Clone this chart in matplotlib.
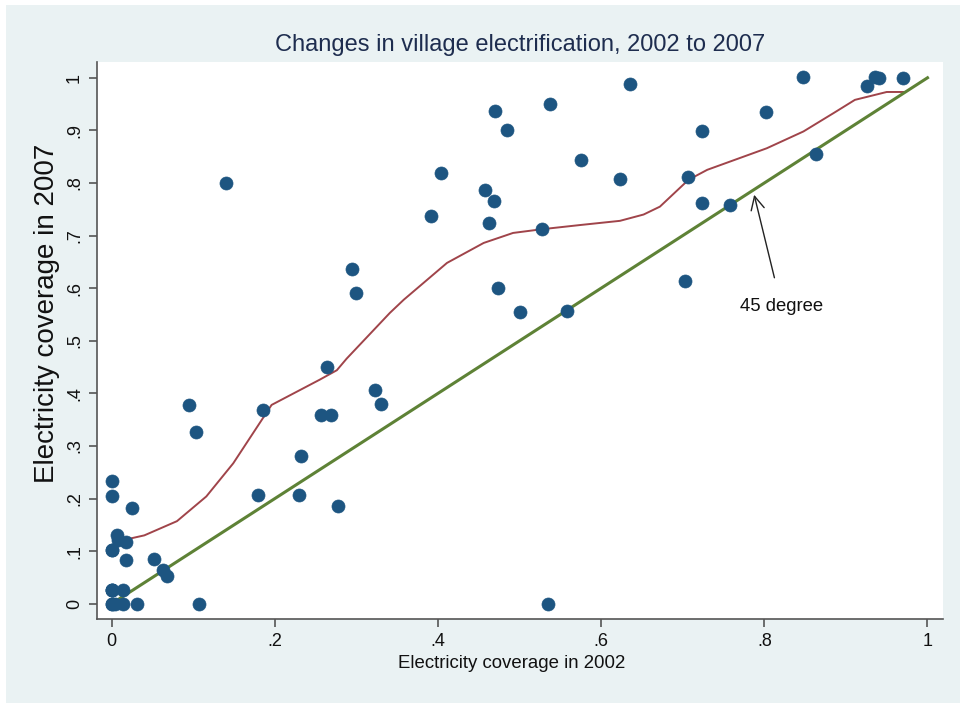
import matplotlib
matplotlib.use("Agg")
import matplotlib.pyplot as plt
from matplotlib.patches import Rectangle

plt.rcParams['font.family'] = ['Liberation Sans', 'DejaVu Sans']

# village electricity coverage, 2002 vs 2007
cov_2002 = [0, 0, 0, 0, 0, 0.004, 0.0135, 0.031, 0.107, 0, 0.0135,
            0.068, 0.0625, 0.052, 0.018, 0, 0.017, 0.008, 0.007, 0.025,
            0, 0, 0.095, 0.103, 0.185, 0.140, 0.179, 0.230, 0.232, 0.277,
            0.257, 0.269, 0.264, 0.294, 0.299, 0.323, 0.330, 0.392, 0.404,
            0.458, 0.469, 0.463, 0.470, 0.484, 0.474, 0.501, 0.527, 0.537,
            0.535, 0.558, 0.575, 0.623, 0.635, 0.703, 0.706, 0.723, 0.723,
            0.758, 0.802, 0.848, 0.863, 0.926, 0.936, 0.941, 0.970]
cov_2007 = [0, 0.027, 0.103, 0.205, 0.233, 0, 0, 0, 0, 0.027, 0.027,
            0.052, 0.065, 0.086, 0.084, 0.103, 0.118, 0.122, 0.13, 0.182,
            0, 0.027, 0.377, 0.326, 0.369, 0.799, 0.207, 0.207, 0.281, 0.186,
            0.358, 0.358, 0.450, 0.637, 0.591, 0.407, 0.379, 0.738, 0.819,
            0.786, 0.766, 0.724, 0.936, 0.900, 0.601, 0.555, 0.712, 0.951,
            0, 0.557, 0.843, 0.807, 0.989, 0.613, 0.812, 0.899, 0.762,
            0.758, 0.934, 1.001, 0.855, 0.984, 1.001, 1.0, 1.0]

# lowess smooth
lowess_x = [0, 0.017, 0.04, 0.08, 0.116, 0.149, 0.196, 0.255, 0.276, 0.288,
            0.341, 0.358, 0.411, 0.456, 0.492, 0.527, 0.574, 0.623, 0.652,
            0.672, 0.707, 0.730, 0.803, 0.848, 0.885, 0.911, 0.950, 0.971]
lowess_y = [0.111, 0.122, 0.130, 0.157, 0.204, 0.267, 0.378, 0.426, 0.444,
            0.466, 0.553, 0.578, 0.648, 0.686, 0.705, 0.712, 0.720, 0.728,
            0.740, 0.755, 0.806, 0.825, 0.866, 0.898, 0.933, 0.958, 0.973,
            0.973]

diag = [0, 1]
ticks = [0, 0.2, 0.4, 0.6, 0.8, 1]
tick_labels = ['0', '.2', '.4', '.6', '.8', '1']
yticks = [0, 0.1, 0.2, 0.3, 0.4, 0.5, 0.6, 0.7, 0.8, 0.9, 1]
ytick_labels = ['0', '.1', '.2', '.3', '.4', '.5', '.6', '.7', '.8', '.9', '1']

bg = '#EAF2F3'
fig = plt.figure(figsize=(9.6, 7.03), dpi=100, facecolor='white')
fig.patches.append(Rectangle((6 / 960, 0), 1, 1 - 5 / 703, transform=fig.transFigure,
                             facecolor=bg, edgecolor='none', zorder=-10))

ax = fig.add_axes([97 / 960, 84 / 703, 846 / 960, 557 / 703])
ax.set_facecolor('white')

ax.scatter(cov_2002, cov_2007, s=88, color='#1D5581', edgecolors='#1D5581',
           linewidths=0.5, zorder=3)
ax.plot(lowess_x, lowess_y, color='#A0444A', lw=1.4, zorder=2)
ax.plot(diag, diag, color='#5E8236', lw=2.2, zorder=2)

ax.annotate('45 degree', xy=(0.7875, 0.7776), xytext=(0.821, 0.565),
            ha='center', va='center', fontsize=13.3, color='#111111',
            arrowprops=dict(arrowstyle='->', color='#222222', lw=1.0,
                            shrinkA=13, shrinkB=0, mutation_scale=24))

ax.set_xlim(-0.018, 1.019)
ax.set_ylim(-0.029, 1.03)
ax.set_xticks(ticks)
ax.set_xticklabels(tick_labels)
ax.set_yticks(yticks)
ax.set_yticklabels(ytick_labels, rotation=90, va='center')

for side in ['top', 'right']:
    ax.spines[side].set_visible(False)
for side in ['left', 'bottom']:
    ax.spines[side].set_color('#555555')
    ax.spines[side].set_linewidth(1.2)
ax.tick_params(direction='out', length=6, width=1.2, color='#555555',
               labelsize=13, labelcolor='#111111', pad=4)

ax.set_xlabel('Electricity coverage in 2002', fontsize=13.4, color='#111111')
ax.xaxis.set_label_coords(0.49, -0.064)
ax.set_ylabel('Electricity coverage in 2007', fontsize=20, color='#111111', va='center')
ax.yaxis.set_label_coords(-0.059, 0.548)
fig.text(520 / 960, 1 - 45 / 703, 'Changes in village electrification, 2002 to 2007',
         fontsize=17, color='#1E2D4F', ha='center', va='center')

fig.savefig('out.png', dpi=100, facecolor=fig.get_facecolor())
